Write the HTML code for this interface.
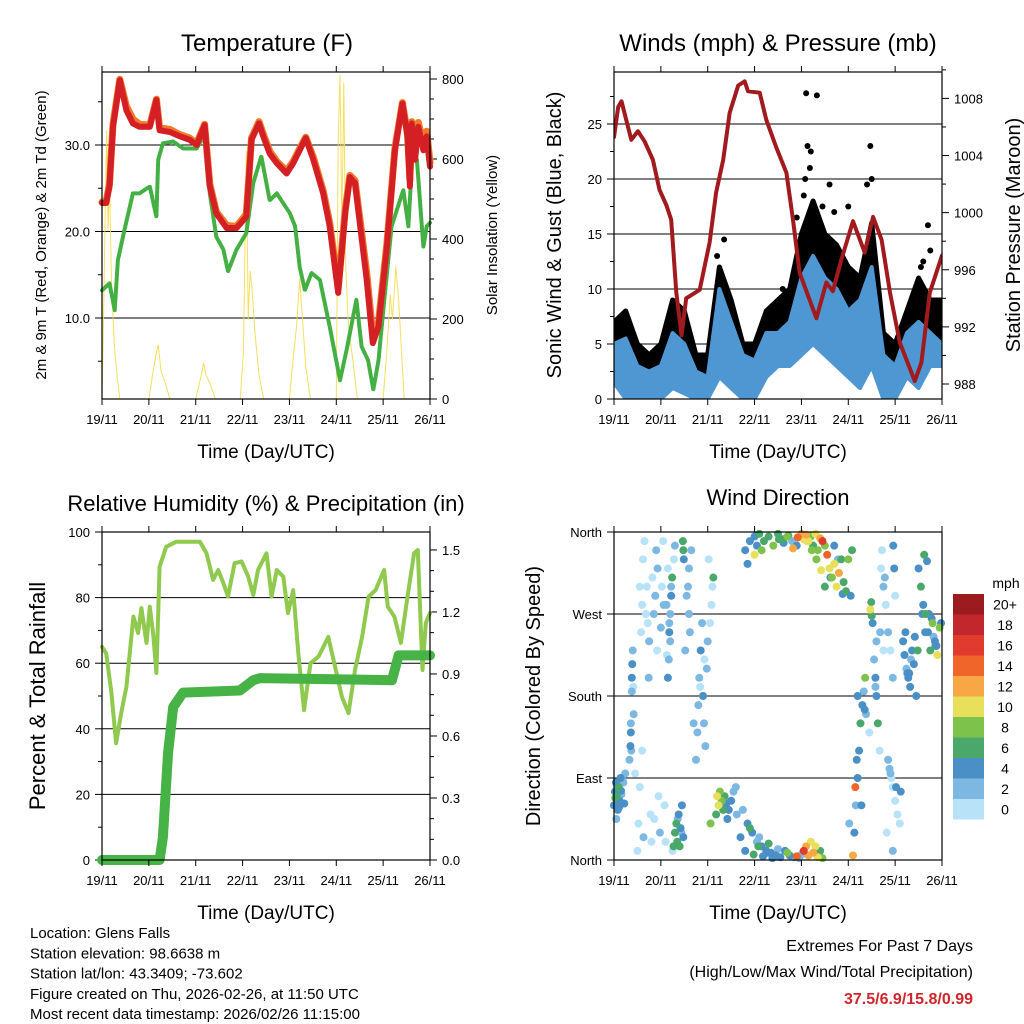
<!DOCTYPE html>
<html><head><meta charset="utf-8"><style>
html,body{margin:0;padding:0;background:#fff;}
svg{display:block;font-family:"Liberation Sans",Arial,sans-serif;}
</style></head><body>
<svg id="c" width="1024" height="1024" viewBox="0 0 1024 1024" xmlns="http://www.w3.org/2000/svg">
<defs><clipPath id="clipR"><rect x="614" y="72" width="328" height="327"/></clipPath></defs>
<rect width="1024" height="1024" fill="#fff"/>
</svg>
<script>
// ---------------- DATA ----------------
const dayLabels = ["19/11","20/11","21/11","22/11","23/11","24/11","25/11","26/11"];
// Temperature (F)
const tempT   = [0,0.09,0.16,0.235,0.38,0.52,0.66,0.80,1.02,1.16,1.23,1.45,1.66,1.87,2.02,2.19,2.30,2.44,2.66,2.87,3.08,3.19,3.35,3.44,3.58,3.73,3.94,4.08,4.22,4.35,4.51,4.72,4.86,5.04,5.19,5.29,5.40,5.51,5.65,5.78,5.90,6.08,6.25,6.41,6.52,6.57,6.61,6.68,6.75,6.86,6.93,7.0];
const temp2m  = [23.3,23.3,25.2,32.1,37.5,34.0,32.5,32.1,32.1,35.2,31.7,31.5,31.0,30.6,30.0,32.3,25.2,22.1,20.4,20.4,21.7,30.6,32.5,31.0,29.0,27.9,26.7,27.9,29.4,30.8,28.3,24.4,20.6,12.9,22.1,26.3,25.6,20.6,14.4,7.1,9.0,18.2,29.4,34.8,31.0,25.2,32.5,28.3,32.1,29.4,31.0,27.5];
const temp9m  = [23.4,23.5,25.5,32.4,37.6,34.5,33.0,32.4,32.3,35.3,32.0,31.8,31.2,30.8,30.2,32.4,25.5,22.3,20.7,20.6,22.0,30.8,32.7,31.3,29.3,28.1,27.0,28.1,29.6,30.9,28.6,24.7,21.0,13.5,22.5,26.5,25.9,21.2,15.2,8.0,9.5,18.6,29.6,34.9,31.3,26.0,32.7,28.8,32.6,30.2,31.6,28.0];
const dewT    = [0,0.16,0.27,0.34,0.48,0.66,0.80,1.02,1.16,1.20,1.30,1.52,1.73,2.02,2.19,2.30,2.44,2.59,2.69,2.87,3.08,3.23,3.40,3.58,3.73,4.01,4.12,4.22,4.33,4.47,4.65,4.86,5.08,5.22,5.43,5.54,5.68,5.79,5.90,6.04,6.18,6.43,6.54,6.63,6.72,6.86,6.93,7.0];
const dewVal  = [13.2,14.0,10.9,16.7,20.2,24.4,24.4,25.2,21.7,28.3,30.2,30.4,29.6,29.6,31.2,24.4,19.4,17.9,15.4,17.9,19.8,25.6,28.7,23.6,24.4,22.1,20.6,15.9,13.2,15.2,14.4,9.0,2.8,6.3,12.1,6.7,5.1,1.7,5.1,12.9,20.6,24.8,20.6,29.4,28.3,18.2,20.6,21.0];
// Solar insolation
const solarT  = [0,0.04,0.07,0.1,0.13,0.16,0.2,0.26,0.32,0.38,1.0,1.08,1.15,1.2,1.26,1.35,1.45,2.0,2.1,2.17,2.22,2.3,2.42,2.95,3.02,3.08,3.12,3.16,3.2,3.26,3.35,3.45,4.0,4.07,4.15,4.22,4.28,4.35,4.45,5.0,5.04,5.08,5.12,5.16,5.2,5.26,5.35,5.45,6.0,6.08,6.15,6.2,6.27,6.33,6.4,6.45];
const solarW  = [0,250,480,670,420,560,300,140,60,0,0,60,110,135,70,40,0,0,50,90,60,40,0,0,120,620,200,320,280,170,60,0,0,90,180,300,200,80,0,0,650,810,430,790,330,180,100,0,0,120,260,200,330,250,100,0];
// Winds & pressure
const presT   = [0,0.09,0.16,0.26,0.37,0.51,0.65,0.83,0.97,1.12,1.22,1.33,1.44,1.54,1.83,2.04,2.18,2.33,2.47,2.65,2.79,2.86,3.11,3.25,3.46,3.68,3.82,3.96,4.14,4.32,4.53,4.67,4.85,5.1,5.35,5.53,5.71,5.89,6.1,6.42,6.56,6.74,7.0];
const presMb  = [1005.3,1007.4,1007.8,1006.5,1005.1,1005.7,1005.0,1003.7,1001.6,1000.5,999.5,994.4,991.4,994.0,994.6,997.9,1001.4,1003.7,1007.0,1008.9,1009.2,1008.5,1008.4,1006.5,1004.6,1002.8,999.5,995.8,994.2,992.6,995.1,994.5,996.7,999.4,997.2,999.7,998.1,994.4,990.9,988.2,989.5,994.4,997.0];
const windT   = [0,0.25,0.5,0.75,1.0,1.25,1.5,1.75,2.0,2.25,2.5,2.75,3.0,3.25,3.5,3.75,4.0,4.25,4.5,4.75,5.0,5.25,5.5,5.75,6.0,6.25,6.5,6.75,7.0];
const windLo  = [1.5,0,0,0,0,1,0.5,0,0,2,1,0,0,2,3,3,4,5,4,3,2,1,3,0,0,2,1,3,3];
const windHi  = [5,5.5,3,2.5,3,6,5,2.5,2,10,7,4,3.5,6,6,7,11,13,11,10,8,9,12,4,3,6,7,6,5];
const gustMax = [7,8,5,4,5,9,8,4,4,12,9,5,5,8,9,10,15,18,15,14,12,11,16,6,5,8,11,9,9];
const gustOutT = [4.1,4.33,4.08,4.13,5.47,4.6,6.7,6.75,5.5,2.35,3.9,4.2,4.05,4.18,4.45,4.7,5.0,5.4,6.55,6.6,2.2,1.3,3.6];
const gustOutV = [27.8,27.6,20,23,23,19.5,15.8,13.5,20,14.5,16.5,22.5,18.5,21,17.5,17,17.5,19.5,12,12.5,13,8,10];
// Relative humidity & precipitation
const rhT     = [0,0.09,0.20,0.30,0.41,0.52,0.67,0.77,0.84,0.95,1.02,1.09,1.16,1.23,1.37,1.58,2.09,2.23,2.37,2.48,2.59,2.69,2.83,2.98,3.12,3.23,3.33,3.51,3.62,3.73,3.87,3.97,4.08,4.19,4.31,4.45,4.62,4.83,5.12,5.26,5.40,5.55,5.69,5.84,6.02,6.10,6.24,6.38,6.52,6.66,6.74,6.84,6.91,7.0];
const rhPct   = [65,63,51,35.6,44.8,52.8,74.2,69.2,76.8,66.2,77.2,69.2,57,89.4,95.5,97,97,93.5,85.4,88.4,84.4,80.3,90.5,91,86.4,80.8,88.4,93.5,80.3,88.4,86.4,75.3,82.3,63.1,45.7,60,62,68,49.8,44.8,57.9,68,80.3,82.3,88.4,77.2,74.2,66.2,80.3,93.5,94.5,57.9,72.3,75.3];
const rainT   = [0,1.23,1.30,1.41,1.52,1.73,2.94,3.23,3.37,6.19,6.33,7.0];
const rainIn  = [0,0,0.11,0.52,0.74,0.81,0.82,0.87,0.88,0.87,0.99,0.99];
// Wind direction (day, degrees, speed mph)
const dirDay = [0.0,0.02,0.04,0.06,0.08,0.1,0.12,0.14,0.16,0.2,0.24,0.05, 0.33,0.35,0.36,0.38,0.39,0.4,0.38,0.42,
 0.5,0.52,0.55,0.6,0.58,0.6,0.62,0.65,0.7,0.72,0.75,0.78,0.8,0.82,0.85,0.88,0.9,0.92,0.95,0.98,1.0,1.02,1.05,1.08,1.1,1.12,1.15,1.18,1.2,1.22,1.25,1.28,1.3,
 1.15,1.17,1.18,1.2,1.22, 1.3,1.33,1.35,1.38,1.4,1.42,1.45,1.48, 1.47,1.48,1.49, 1.55,1.58,1.6,1.62,1.65,
 1.75,1.78,1.8,1.82,1.85,1.88,1.9,1.92,1.95,1.98,2.0, 2.05,2.08,2.1,2.02,
 2.18,2.2,2.23,2.26,2.3,2.33,2.36,2.4,2.45,2.5,2.55,2.6,
 2.75,2.85,2.95,3.05,3.15,3.25,3.35,3.45,3.55,3.65,3.75,3.85,2.9,3.1,3.3,3.5,3.7,3.9,
 4.05,4.1,4.15,4.2,4.25,4.3,4.35,4.4,4.45,3.95,4.0,
 2.8,2.9,3.0,3.05,3.1,3.2,3.3,3.4,3.5,3.6,3.7,3.8,3.9,2.85,3.0,3.15,
 4.0,4.05,4.1,4.15,4.2,4.25,4.3,4.35,4.45,4.5,4.4,
 4.55,4.6,4.65,4.7,4.75,4.8,4.85,4.9,4.95,5.0,5.05,4.7,5.08,
 5.13,5.16,5.2,5.23,5.26,5.3,5.33,5.36,5.38,5.2,5.15,5.1,
 5.47,5.49,5.5,5.52, 5.55,5.58,5.6,5.63,5.67,5.6,
 5.7,5.75,5.8,5.85,5.9,5.95,5.72,5.78,5.88,
 5.85,5.9,5.95,6.0,6.05,6.1,5.82,5.95,6.0,5.98,5.96,
 6.17,6.2,6.24,6.28,6.32,6.36,6.4,6.45,6.22,6.3,
 6.5,6.55,6.6,6.65,6.7,6.75,6.8,6.85,6.9,6.95,6.62,6.68,6.72,6.82,6.88,6.98];
const dirDeg = [60,75,85,70,55,80,65,90,72,85,95,45, 110,125,140,200,215,230,185,160,
 10,40,80,120,250,280,330,350,300,260,240,50,20,310,270,290,340,230,70,30,255,300,350,60,20,280,320,260,240,300,10,330,345,
 200,220,250,270,290, 30,40,20,50,15,35,60,25, 350,340,330, 290,300,320,250,340,
 110,140,170,200,230,260,180,150,125,210,240, 260,280,300,330,
 50,70,60,75,65,55,70,62,55,65,75,80,
 55,40,30,20,15,10,8,5,3,10,5,3,35,25,18,12,8,4,
 10,15,5,20,8,15,3,10,2,2,6,
 340,350,355,345,358,350,355,345,358,352,355,350,345,325,335,340,
 358,352,357,350,355,345,358,340,350,345,353,
 335,320,310,325,300,315,330,305,295,330,290,345,340,
 30,60,90,120,150,170,185,200,160,180,80,5,
 275,283,268,260, 220,200,180,150,120,240,
 320,300,280,250,230,200,340,310,100,
 110,95,80,65,50,40,30,10,290,320,345,
 240,225,210,200,190,230,215,180,250,205,
 320,300,280,270,250,230,260,240,225,255,335,328,270,245,235,260];
const dirSpd = [4,5,4,6,4,7,5,4,3,3,3,3, 3,4,4,4,4,3,3,2,
 1,1,1,1,1,1,1,0,1,1,2,1,1,1,2,2,2,1,1,2,2,1,1,1,0,2,1,3,3,2,1,1,2,
 4,3,4,3,4, 6,7,6,5,6,4,4,5, 6,6,5, 2,3,2,3,2,
 2,3,2,3,4,3,4,3,2,2,2, 1,1,1,1,
 6,10,10,9,8,7,6,5,4,4,3,2,
 3,4,4,3,4,4,5,4,5,5,4,3,6,2,6,3,
 8,14,16,12,13,11,12,10,10,6,9,
 2,3,4,4,5,5,6,7,6,8,7,6,8,3,4,5,
 10,9,12,11,13,10,8,7,10,8,16,
 8,12,14,11,9,10,10,13,7,6,7,8,4,
 4,6,4,3,4,5,6,4,3,8,3,4,
 14,13,10,6, 6,4,3,4,4,6,
 1,2,1,2,1,2,1,2,1,
 3,2,3,2,1,1,1,1,1,2,1,
 4,4,5,4,3,4,5,4,4,4,
 4,4,5,6,4,6,4,6,8,5,10,8,6,4,4,3];
// additional direction observations
const extraDay = [0.03,0.07,0.11,0.15,0.18,0.22,0.36,0.37,0.41,0.45,0.55,0.63,0.68,0.74,0.86,0.93,1.06,1.13,1.24,1.27,1.36,1.44,1.52,1.6,1.7,1.84,1.93,2.06,2.12,2.28,2.35,2.42,2.62,2.7,2.8,2.98,3.08,3.18,3.28,3.38,3.52,3.62,3.72,3.82,3.92,4.02,4.12,4.22,4.32,4.42,4.5,4.62,4.78,4.88,5.02,5.18,5.28,5.35,5.45,5.58,5.68,5.75,5.92,6.02,6.12,6.26,6.34,6.42,6.48,6.58,6.64,6.78,6.86,6.92,6.96];
const extraDeg = [68,82,58,76,88,62,150,120,190,95,300,25,270,200,45,320,280,225,310,15,45,30,230,270,150,190,220,40,310,70,58,45,50,25,10,6,15,4,8,2,352,348,356,342,354,355,350,340,330,318,300,310,330,292,40,110,60,165,140,190,250,230,90,80,75,205,220,245,230,270,250,265,235,245,250];
const extraSpd = [5,4,6,3,4,5,3,4,3,3,1,1,1,2,1,2,1,3,2,1,6,6,2,2,3,3,3,1,1,9,7,5,3,4,3,4,5,6,7,5,4,5,6,5,6,12,14,11,10,8,9,10,7,5,3,4,3,4,4,5,1,2,2,1,1,4,5,4,3,5,6,4,5,4,4];
const speedColors = ["#b8e2f7","#7db8e3","#4a8fc6","#4aa86b","#7dc24b","#e8e05a","#f7a844","#f0652a","#e03b2c","#c1272d","#9b1b1e"];
const speedLabels = ["0","2","4","6","8","10","12","14","16","18","20+"];

// ---------------- RENDER ----------------
const NS="http://www.w3.org/2000/svg";
const svg=document.getElementById('c');
function mk(tag,attrs,parent){const e=document.createElementNS(NS,tag);for(const k in attrs)e.setAttribute(k,attrs[k]);(parent||svg).appendChild(e);return e;}
function txt(s,x,y,size,anchor,parent,extra){const e=mk('text',Object.assign({x:x,y:y,'font-size':size,'text-anchor':anchor||'middle',fill:'#000'},extra||{}),parent);e.textContent=s;return e;}

const L={x0:102,x1:430}, R={x0:614,x1:942};
const xL=d=>L.x0+d*(L.x1-L.x0)/7, xR=d=>R.x0+d*(R.x1-R.x0)/7;
const yTemp=v=>404.5-8.65*v, ySolar=v=>399-0.4*v;
const yWind=v=>399-11*v, yPres=p=>384-(p-988)*14.28;
const yRH=v=>860-3.28*v, yRain=v=>860-206.7*v;
const yDir=d=>860-d*328/360;

function poly(xs,ys,attrs,parent){return mk('polyline',Object.assign({points:xs.map((x,i)=>x.toFixed(1)+','+ys[i].toFixed(1)).join(' '),fill:'none','stroke-linejoin':'round','stroke-linecap':'round'},attrs),parent);}

function frame(g,x0,x1,y0,y1,xf,name){
  const fr=mk('rect',{x:x0,y:y0,width:x1-x0,height:y1-y0,fill:'none',stroke:'#000','stroke-width':1.2},g);
  
  
  const ax=mk('g',{},g);
  
  
  for(let d=0;d<=7;d++){const x=xf(d);
    mk('line',{x1:x,x2:x,y1:y1,y2:y1+6,stroke:'#000','stroke-width':1},ax);
    mk('line',{x1:x,x2:x,y1:y0,y2:y0-6,stroke:'#000','stroke-width':1},ax);
    const t=txt(dayLabels[d],x,y1+25,13,'middle',ax);
    
    
  }
  const xt=txt('Time (Day/UTC)',(x0+x1)/2,y1+59,19,'middle',g);
  
  
}
function yTicks(g,side,x,vals,yf,labels,minor,grid,gx0,gx1){
  const dir=side==='left'?-1:1;
  vals.forEach((v,i)=>{const y=yf(v);
    mk('line',{x1:x,x2:x+dir*7,y1:y,y2:y,stroke:'#000','stroke-width':1},g);
    if(grid) mk('line',{x1:gx0,x2:gx1,y1:y,y2:y,stroke:'#000','stroke-width':1},g);
    const t=txt(labels[i],x+dir*12,y+5,13,side==='left'?'end':'start',g);
    
    
  });
  (minor||[]).forEach(v=>{const y=yf(v);mk('line',{x1:x,x2:x+dir*4,y1:y,y2:y,stroke:'#000','stroke-width':1},g);});
}
function title(s,x,y,size,name){const t=txt(s,x,y,size,'middle');}
function vtitle(s,x,y,size,name,g){const t=txt(s,0,0,size,'middle',g,{transform:`translate(${x},${y}) rotate(-90)`});}

// ===== Panel 1: Temperature =====
const p1=mk('g',{});


title('Temperature (F)',267,51,24,'temperature-title');
yTicks(p1,'left',L.x0,[10,20,30],yTemp,['10.0','20.0','30.0'],[5,15,25,35],true,L.x0,L.x1);
yTicks(p1,'right',L.x1,[0,200,400,600,800],ySolar,['0','200','400','600','800'],[50,100,150,250,300,350,450,500,550,650,700,750],false);
const solarLine=poly(solarT.map(xL),solarW.map(ySolar),{stroke:'#f5dc4a','stroke-width':1,'stroke-opacity':0.9},p1);


const dewLine=poly(dewT.map(xL),dewVal.map(yTemp),{stroke:'#44b044','stroke-width':4,'stroke-dasharray':'3 1.5'},p1);


const t9=poly(tempT.map(xL),temp9m.map(yTemp),{stroke:'#f07a2a','stroke-width':7},p1);


const t2=poly(tempT.map(xL),temp2m.map(yTemp),{stroke:'#d42025','stroke-width':6},p1);


frame(p1,L.x0,L.x1,72,399,xL,'temperature');
vtitle('2m & 9m T (Red, Orange) & 2m Td (Green)',46,235,15,'temperature-y-axis-title',p1);
vtitle('Solar Insolation (Yellow)',497,235,15,'solar-y-axis-title',p1);

// ===== Panel 2: Winds =====
const p2=mk('g',{});


title('Winds (mph) & Pressure (mb)',778,51,24,'winds-title');
yTicks(p2,'left',R.x0,[0,5,10,15,20,25],yWind,['0','5','10','15','20','25'],[2.5,7.5,12.5,17.5,22.5,27.5],true,R.x0,R.x1);
yTicks(p2,'right',R.x1,[988,992,996,1000,1004,1008],yPres,['988','992','996','1000','1004','1008'],[990,994,998,1002,1006,1010],false);
const clipG=mk('g',{'clip-path':'url(#clipR)'},p2);


const gustPts=windT.map((t,i)=>xR(t).toFixed(1)+','+yWind(gustMax[i]).toFixed(1)).concat(windT.slice().reverse().map((t,j)=>{const i=windT.length-1-j;return xR(t).toFixed(1)+','+yWind(windHi[i]).toFixed(1);}));
const gustArea=mk('polygon',{points:gustPts.join(' '),fill:'#000',stroke:'#000','stroke-width':5,'stroke-linejoin':'round'},clipG);


gustOutT.forEach((t,i)=>{const c=mk('circle',{cx:xR(t),cy:yWind(gustOutV[i]),r:3,fill:'#000'},clipG);
  
  });
const windPts=windT.map((t,i)=>xR(t).toFixed(1)+','+yWind(windHi[i]).toFixed(1)).concat(windT.slice().reverse().map((t,j)=>{const i=windT.length-1-j;return xR(t).toFixed(1)+','+yWind(windLo[i]).toFixed(1);}));
const windArea=mk('polygon',{points:windPts.join(' '),fill:'#4f97d2',stroke:'#4f97d2','stroke-width':4,'stroke-linejoin':'round'},clipG);


const presLine=poly(presT.map(xR),presMb.map(yPres),{stroke:'#a01a1e','stroke-width':4},clipG);


frame(p2,R.x0,R.x1,72,399,xR,'winds');
vtitle('Sonic Wind & Gust (Blue, Black)',561,235,20,'wind-y-axis-title',p2);
vtitle('Station Pressure (Maroon)',1020,235,20,'pressure-y-axis-title',p2);

// ===== Panel 3: RH & Precip =====
const p3=mk('g',{});


title('Relative Humidity (%) & Precipitation (in)',266,511,22,'humidity-title');
yTicks(p3,'left',L.x0,[0,20,40,60,80,100],yRH,['0','20','40','60','80','100'],[10,30,50,70,90],true,L.x0,L.x1);
yTicks(p3,'right',L.x1,[0,0.3,0.6,0.9,1.2,1.5],yRain,['0.0','0.3','0.6','0.9','1.2','1.5'],[0.1,0.2,0.4,0.5,0.7,0.8,1.0,1.1,1.3,1.4],false);
const rhLine=poly(rhT.map(xL),rhPct.map(yRH),{stroke:'#8fc94e','stroke-width':4},p3);


const rainLine=poly(rainT.map(xL),rainIn.map(yRain),{stroke:'#47b347','stroke-width':10},p3);


frame(p3,L.x0,L.x1,532,860,xL,'humidity');
vtitle('Percent & Total Rainfall',45,696,22,'humidity-y-axis-title',p3);

// ===== Panel 4: Wind Direction =====
const p4=mk('g',{});


title('Wind Direction',778,505,22,'wind-direction-title');
yTicks(p4,'left',R.x0,[0,90,180,270,360],yDir,['North','East','South','West','North'],[],true,R.x0,R.x1);
const dots=mk('g',{},p4);


const allDay=dirDay.concat(extraDay), allDeg=dirDeg.concat(extraDeg), allSpd=dirSpd.concat(extraSpd);
const order=allSpd.map((s,i)=>i).sort((a,b)=>allSpd[a]-allSpd[b]);
order.forEach(i=>{
  const c=mk('circle',{cx:xR(allDay[i]),cy:yDir(allDeg[i]),r:4,fill:speedColors[Math.min(10,Math.floor(allSpd[i]/2))]},dots);
  
  
});
frame(p4,R.x0,R.x1,532,860,xR,'wind-direction');
vtitle('Direction (Colored By Speed)',540,696,20,'direction-y-axis-title',p4);
const cb=mk('g',{});


txt('mph',1006,588,14,'middle',cb);
for(let k=0;k<11;k++){
  const idx=10-k, y=594+k*20.5;
  const r=mk('rect',{x:953,y:y,width:31,height:20.5,fill:speedColors[idx]},cb);
  
  
  txt(speedLabels[idx],1005,y+15.5,14,'middle',cb);
}

// ===== Footer text =====
const info=["Location: Glens Falls","Station elevation: 98.6638 m","Station lat/lon: 43.3409; -73.602","Figure created on Thu, 2026-02-26, at 11:50 UTC","Most recent data timestamp: 2026/02/26 11:15:00"];
info.forEach((s,i)=>{const t=txt(s,30,938+i*20.3,15,'start');});
const e1=txt('Extremes For Past 7 Days',973,951,16,'end');


const e2=txt('(High/Low/Max Wind/Total Precipitation)',973,977,16,'end');


const e3=txt('37.5/6.9/15.8/0.99',973,1004,16,'end',null,{fill:'#d0262b','font-weight':'bold'});


</script>
</body></html>
